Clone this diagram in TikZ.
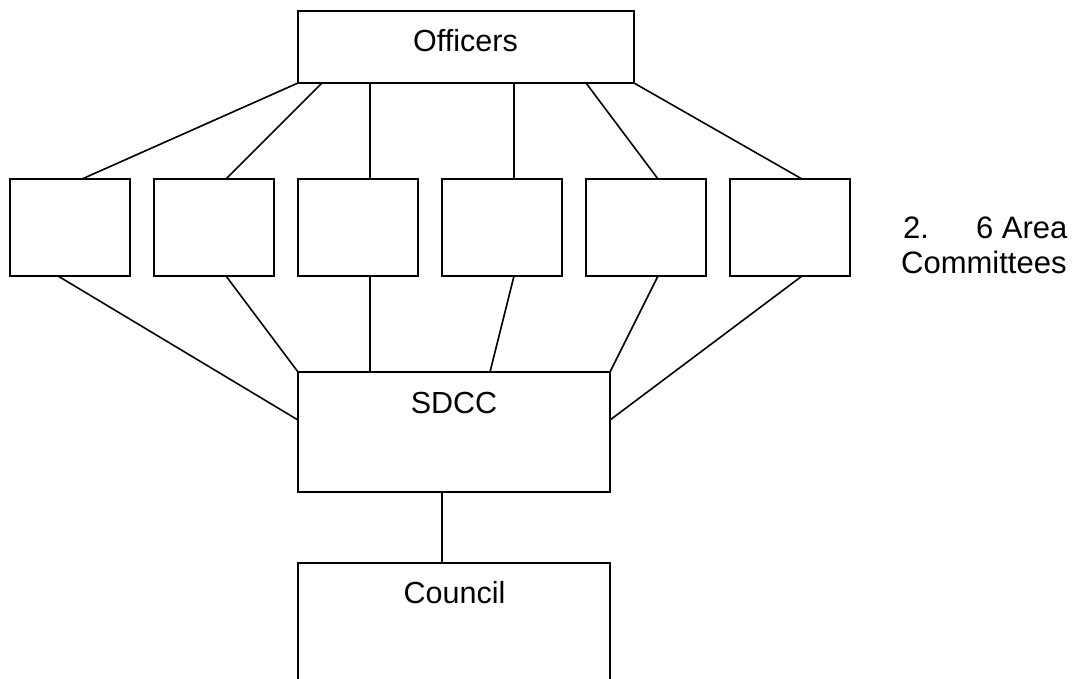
\documentclass[tikz,border=0pt]{standalone}
\usepackage{fontspec}
\setmainfont{Liberation Sans}
\begin{document}
\begin{tikzpicture}[x=1pt,y=-1pt,
  box/.style={draw=black,line width=1.6pt,rectangle,inner sep=0pt,outer sep=0pt,fill=white},
  areabox/.style={box,minimum width=120pt,minimum height=97pt},
  conn/.style={draw=black,line width=1.6pt},
  txt/.style={inner sep=0pt,anchor=base,font=\fontsize{30.5}{34}\selectfont},
  sidetxt/.style={txt,anchor=base west,font=\fontsize{31}{35}\selectfont}]
\useasboundingbox (0,0) rectangle (1076,679);
\clip (0,0) rectangle (1076,679);
% boxes
\node[box,minimum width=336pt,minimum height=72pt] (off) at (466,47) {};
\foreach \i/\x in {1/70,2/214,3/358,4/502,5/646,6/790}
  \node[areabox] (a\i) at (\x,227.5) {};
\node[box,minimum width=312pt,minimum height=120pt] (sd) at (454,432) {};
\node[box,minimum width=312pt,minimum height=120pt] (co) at (454,623) {};
% texts
\node[txt] (offt) at (465.5,52) {Officers};
\node[txt] (sdt) at (454,413) {SDCC};
\node[txt] (cot) at (454.5,603) {Council};
\node[sidetxt] (lab1) at (903,238) {2.\hspace{47pt}6 Area};
\node[sidetxt] (lab2) at (901,273) {Committees};
% connectors officers -> areas
\draw[conn] (off.south west) -- ([xshift=12pt]a1.north);
\draw[conn] ([xshift=24pt]off.south west) -- ([xshift=12pt]a2.north);
\draw[conn] ([xshift=72pt]off.south west) -- ([xshift=12pt]a3.north);
\draw[conn] ([xshift=216pt]off.south west) -- ([xshift=12pt]a4.north);
\draw[conn] ([xshift=288pt]off.south west) -- ([xshift=12pt]a5.north);
\draw[conn] (off.south east) -- ([xshift=12pt]a6.north);
% areas -> SDCC
\draw[conn] ([xshift=-12pt]a1.south) -- ([yshift=12pt]sd.west);
\draw[conn] ([xshift=12pt]a2.south) -- (sd.north west);
\draw[conn] ([xshift=12pt]a3.south) -- ([xshift=72pt]sd.north west);
\draw[conn] ([xshift=12pt]a4.south) -- ([xshift=192pt]sd.north west);
\draw[conn] ([xshift=12pt]a5.south) -- (sd.north east);
\draw[conn] ([xshift=12pt]a6.south) -- ([yshift=12pt]sd.east);
% SDCC -> Council
\draw[conn] ([xshift=-12pt]sd.south) -- ([xshift=-12pt]co.north);
\end{tikzpicture}
\end{document}
